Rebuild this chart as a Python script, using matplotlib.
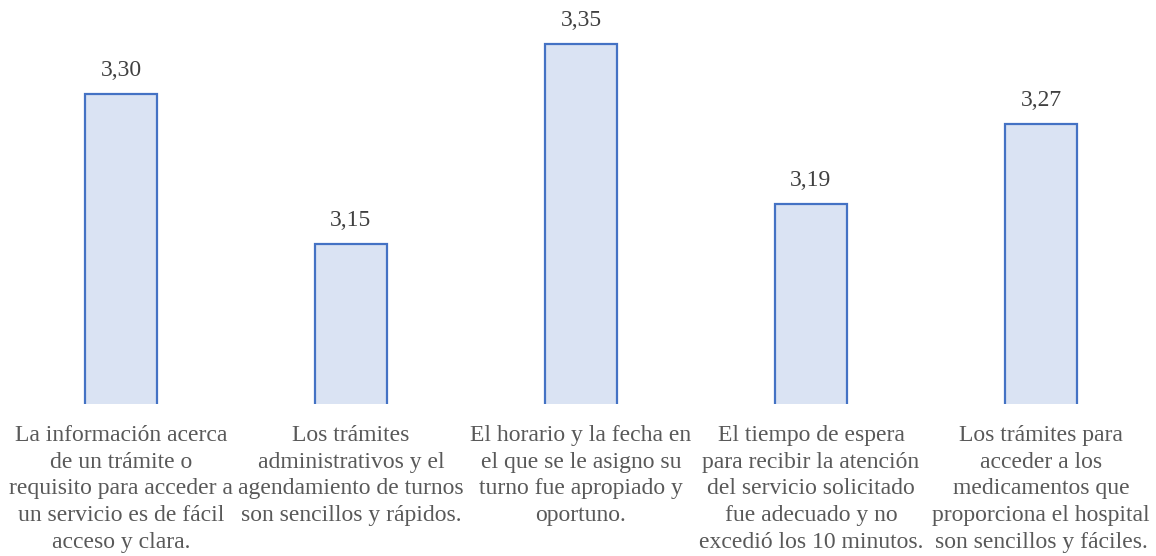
import matplotlib.pyplot as plt

plt.rcParams['font.family'] = ['Liberation Serif', 'DejaVu Serif']

categorias = [
    'La información acerca\nde un trámite o\nrequisito para acceder a\nun servicio es de fácil\nacceso y clara.',
    'Los trámites\nadministrativos y el\nagendamiento de turnos\nson sencillos y rápidos.',
    'El horario y la fecha en\nel que se le asigno su\nturno fue apropiado y\noportuno.',
    'El tiempo de espera\npara recibir la atención\ndel servicio solicitado\nfue adecuado y no\nexcedió los 10 minutos.',
    'Los trámites para\nacceder a los\nmedicamentos que\nproporciona el hospital\nson sencillos y fáciles.',
]
valores = [3.30, 3.15, 3.35, 3.19, 3.27]

fig = plt.figure(figsize=(11.56, 5.56), dpi=100)
ax = fig.add_axes([0, 152 / 556, 1, 394 / 556])

x = range(len(valores))
bars = ax.bar(x, valores, width=0.313, color='#DAE3F3', edgecolor='#4472C4', linewidth=1.6)

for b, v in zip(bars, valores):
    ax.annotate(f'{v:.2f}'.replace('.', ','), (b.get_x() + b.get_width() / 2, v),
                xytext=(0, 9), textcoords='offset points', ha='center', va='bottom',
                fontsize=17, color='#404040')

ax.set_ylim(2.99, 3.384)
ax.set_xlim(-0.526, 4.5)
ax.set_xticks(list(x))
ax.set_xticklabels(categorias, fontsize=17, color='#595959', linespacing=1.36,
                   ha='center', multialignment='center')
ax.tick_params(axis='x', length=0, pad=15)
ax.set_yticks([])
for s in ax.spines.values():
    s.set_visible(False)

fig.savefig('out.png', dpi=100)
